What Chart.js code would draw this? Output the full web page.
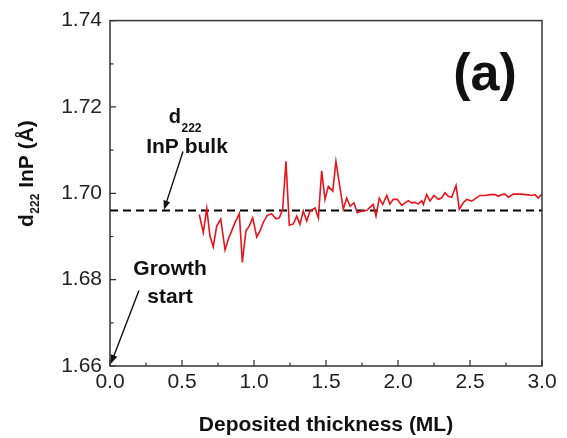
<!DOCTYPE html>
<html>
<head>
<meta charset="utf-8">
<script src="https://cdn.jsdelivr.net/npm/chart.js@4"></script>
<style>
  html, body { margin: 0; padding: 0; background: #fff; }
  #wrap { width: 567px; height: 438px; position: relative; }
</style>
</head>
<body>
<div id="wrap"><canvas id="c" width="567" height="438"></canvas></div>
<script>
// ---- data ----
const thickness = [0.620,0.648,0.672,0.694,0.717,0.741,0.769,0.799,0.822,0.845,0.868,0.898,0.919,0.944,0.967,0.991,1.019,1.042,1.065,1.092,1.123,1.153,1.176,1.199,1.222,1.245,1.273,1.297,1.319,1.342,1.366,1.389,1.424,1.447,1.470,1.493,1.516,1.547,1.569,1.592,1.620,1.644,1.667,1.694,1.717,1.748,1.783,1.806,1.828,1.847,1.870,1.894,1.922,1.944,1.967,1.995,2.026,2.049,2.072,2.095,2.118,2.141,2.165,2.176,2.199,2.222,2.250,2.280,2.303,2.326,2.349,2.373,2.403,2.426,2.453,2.477,2.512,2.535,2.569,2.604,2.639,2.674,2.697,2.720,2.743,2.766,2.801,2.847,2.894,2.928,2.951,2.974,2.998];
const d222 = [1.6951,1.6909,1.6965,1.6901,1.6876,1.6924,1.6940,1.6869,1.6894,1.6913,1.6932,1.6953,1.6840,1.6913,1.6924,1.6943,1.6899,1.6913,1.6933,1.6949,1.6952,1.6941,1.6943,1.6963,1.7074,1.6926,1.6929,1.6947,1.6928,1.6959,1.6936,1.6959,1.6966,1.6943,1.7052,1.6986,1.7016,1.7005,1.7074,1.7024,1.6963,1.6989,1.6970,1.6978,1.6955,1.6959,1.6960,1.6968,1.6974,1.6947,1.6989,1.6974,1.6995,1.6975,1.6986,1.6986,1.6972,1.6978,1.6983,1.6978,1.6979,1.6975,1.6983,1.6974,1.6997,1.6982,1.6995,1.6986,1.6989,1.7001,1.6993,1.6991,1.7018,1.6963,1.6978,1.6986,1.6982,1.6987,1.6995,1.6995,1.6997,1.6997,1.6993,1.6997,1.6998,1.6991,1.6998,1.6998,1.6997,1.6995,1.6997,1.6989,1.6998];
const bulkX = [0.0, 3.0];
const bulkY = [1.696, 1.696];
const xRange = [0.0, 3.0];
const yRange = [1.66, 1.74];
const xStep = 0.5;
const yStep = 0.02;

const FONT = "'Liberation Sans', Arial, Helvetica, sans-serif";

const annot = {
  id: 'annot',
  afterDatasetsDraw(chart) {
    const { ctx, chartArea: a, scales: { x, y } } = chart;
    const px = v => x.getPixelForValue(v);
    const py = v => y.getPixelForValue(v);
    ctx.save();
    // frame
    ctx.strokeStyle = '#333';
    ctx.lineWidth = 1.5;
    ctx.strokeRect(a.left, a.top, a.right - a.left, a.bottom - a.top);
    // inward ticks
    ctx.lineWidth = 1.2;
    const xt = x.ticks.map(t => t.value);
    const yt = y.ticks.map(t => t.value);
    ctx.beginPath();
    xt.forEach((v, i) => {
      const p = px(v);
      ctx.moveTo(p, a.bottom); ctx.lineTo(p, a.bottom - 6);
      if (i < xt.length - 1) {
        const m = px((v + xt[i + 1]) / 2);
        ctx.moveTo(m, a.bottom); ctx.lineTo(m, a.bottom - 3.5);
      }
    });
    yt.forEach((v, i) => {
      const p = py(v);
      ctx.moveTo(a.left, p); ctx.lineTo(a.left + 6, p);
      if (i < yt.length - 1) {
        const m = py((v + yt[i + 1]) / 2);
        ctx.moveTo(a.left, m); ctx.lineTo(a.left + 3.5, m);
      }
    });
    ctx.stroke();

    // arrows
    function arrow(x1, y1, x2, y2) {
      const X1 = px(x1), Y1 = py(y1), X2 = px(x2), Y2 = py(y2);
      const ang = Math.atan2(Y2 - Y1, X2 - X1);
      const L = 9, W = 3.5;
      ctx.strokeStyle = '#111';
      ctx.fillStyle = '#111';
      ctx.lineWidth = 1.4;
      ctx.beginPath();
      ctx.moveTo(X1, Y1);
      ctx.lineTo(X2 - Math.cos(ang) * L * 0.8, Y2 - Math.sin(ang) * L * 0.8);
      ctx.stroke();
      ctx.beginPath();
      ctx.moveTo(X2, Y2);
      ctx.lineTo(X2 - Math.cos(ang) * L + Math.sin(ang) * W, Y2 - Math.sin(ang) * L - Math.cos(ang) * W);
      ctx.lineTo(X2 - Math.cos(ang) * L - Math.sin(ang) * W, Y2 - Math.sin(ang) * L + Math.cos(ang) * W);
      ctx.closePath();
      ctx.fill();
    }
    arrow(0.507, 1.7097, 0.375, 1.6962);
    arrow(0.201, 1.6775, 0.006, 1.6605);

    // texts
    ctx.fillStyle = '#111';
    ctx.textBaseline = 'alphabetic';
    ctx.font = 'bold 21px ' + FONT;
    ctx.textAlign = 'center';
    ctx.fillText('Growth', px(0.417), py(1.6811));
    ctx.fillText('start', px(0.417), py(1.6746));
    ctx.fillText('InP bulk', px(0.535), py(1.7093));
    ctx.textAlign = 'left';
    const dx = px(0.408), dy = py(1.7162);
    ctx.font = 'bold 20px ' + FONT;
    ctx.fillText('d', dx, dy);
    const dw = ctx.measureText('d').width;
    ctx.font = 'bold 12px ' + FONT;
    ctx.fillText('222', dx + dw + 0.5, dy + 9);
    ctx.font = 'bold 52px ' + FONT;
    ctx.textAlign = 'center';
    ctx.fillText('(a)', px(2.604), py(1.7239));

    // axis titles
    ctx.font = 'bold 21px ' + FONT;
    ctx.textAlign = 'center';
    ctx.fillText('Deposited thickness (ML)', (a.left + a.right) / 2, 431);

    ctx.save();
    ctx.translate(33, 227);
    ctx.rotate(-Math.PI / 2);
    ctx.textAlign = 'left';
    ctx.font = 'bold 21px ' + FONT;
    ctx.fillText('d', 0, 0);
    let w = ctx.measureText('d').width;
    ctx.font = 'bold 12px ' + FONT;
    ctx.fillText('222', w + 0.5, 6);
    w += ctx.measureText('222').width + 0.5;
    ctx.font = 'bold 21px ' + FONT;
    ctx.fillText(' InP (\u00C5)', w, 0);
    ctx.restore();

    ctx.restore();
  }
};

new Chart(document.getElementById('c'), {
  type: 'scatter',
  data: {
    datasets: [
      {
        data: thickness.map((v, i) => ({ x: v, y: d222[i] })),
        showLine: true,
        borderColor: '#e8141c',
        borderWidth: 1.6,
        pointRadius: 0,
        tension: 0
      },
      {
        data: bulkX.map((v, i) => ({ x: v, y: bulkY[i] })),
        showLine: true,
        borderColor: '#000',
        borderWidth: 2,
        borderDash: [8, 5],
        pointRadius: 0
      }
    ]
  },
  options: {
    responsive: false,
    animation: false,
    devicePixelRatio: 1,
    layout: { padding: { left: 0, right: 25, top: 18, bottom: 0 } },
    plugins: { legend: { display: false }, tooltip: { enabled: false } },
    scales: {
      x: {
        type: 'linear',
        min: xRange[0], max: xRange[1],
        afterFit(s) { s.height = 72; },
        grid: { display: false, drawTicks: false },
        border: { display: false },
        ticks: {
          stepSize: xStep,
          padding: 4,
          color: '#222',
          font: { family: FONT, size: 21 },
          callback: v => Number(v).toFixed(1)
        }
      },
      y: {
        type: 'linear',
        min: yRange[0], max: yRange[1],
        afterFit(s) { s.width = 110; },
        grid: { display: false, drawTicks: false },
        border: { display: false },
        ticks: {
          stepSize: yStep,
          padding: 8,
          color: '#222',
          font: { family: FONT, size: 21 },
          callback: v => Number(v).toFixed(2)
        }
      }
    }
  },
  plugins: [annot]
});
</script>
</body>
</html>
